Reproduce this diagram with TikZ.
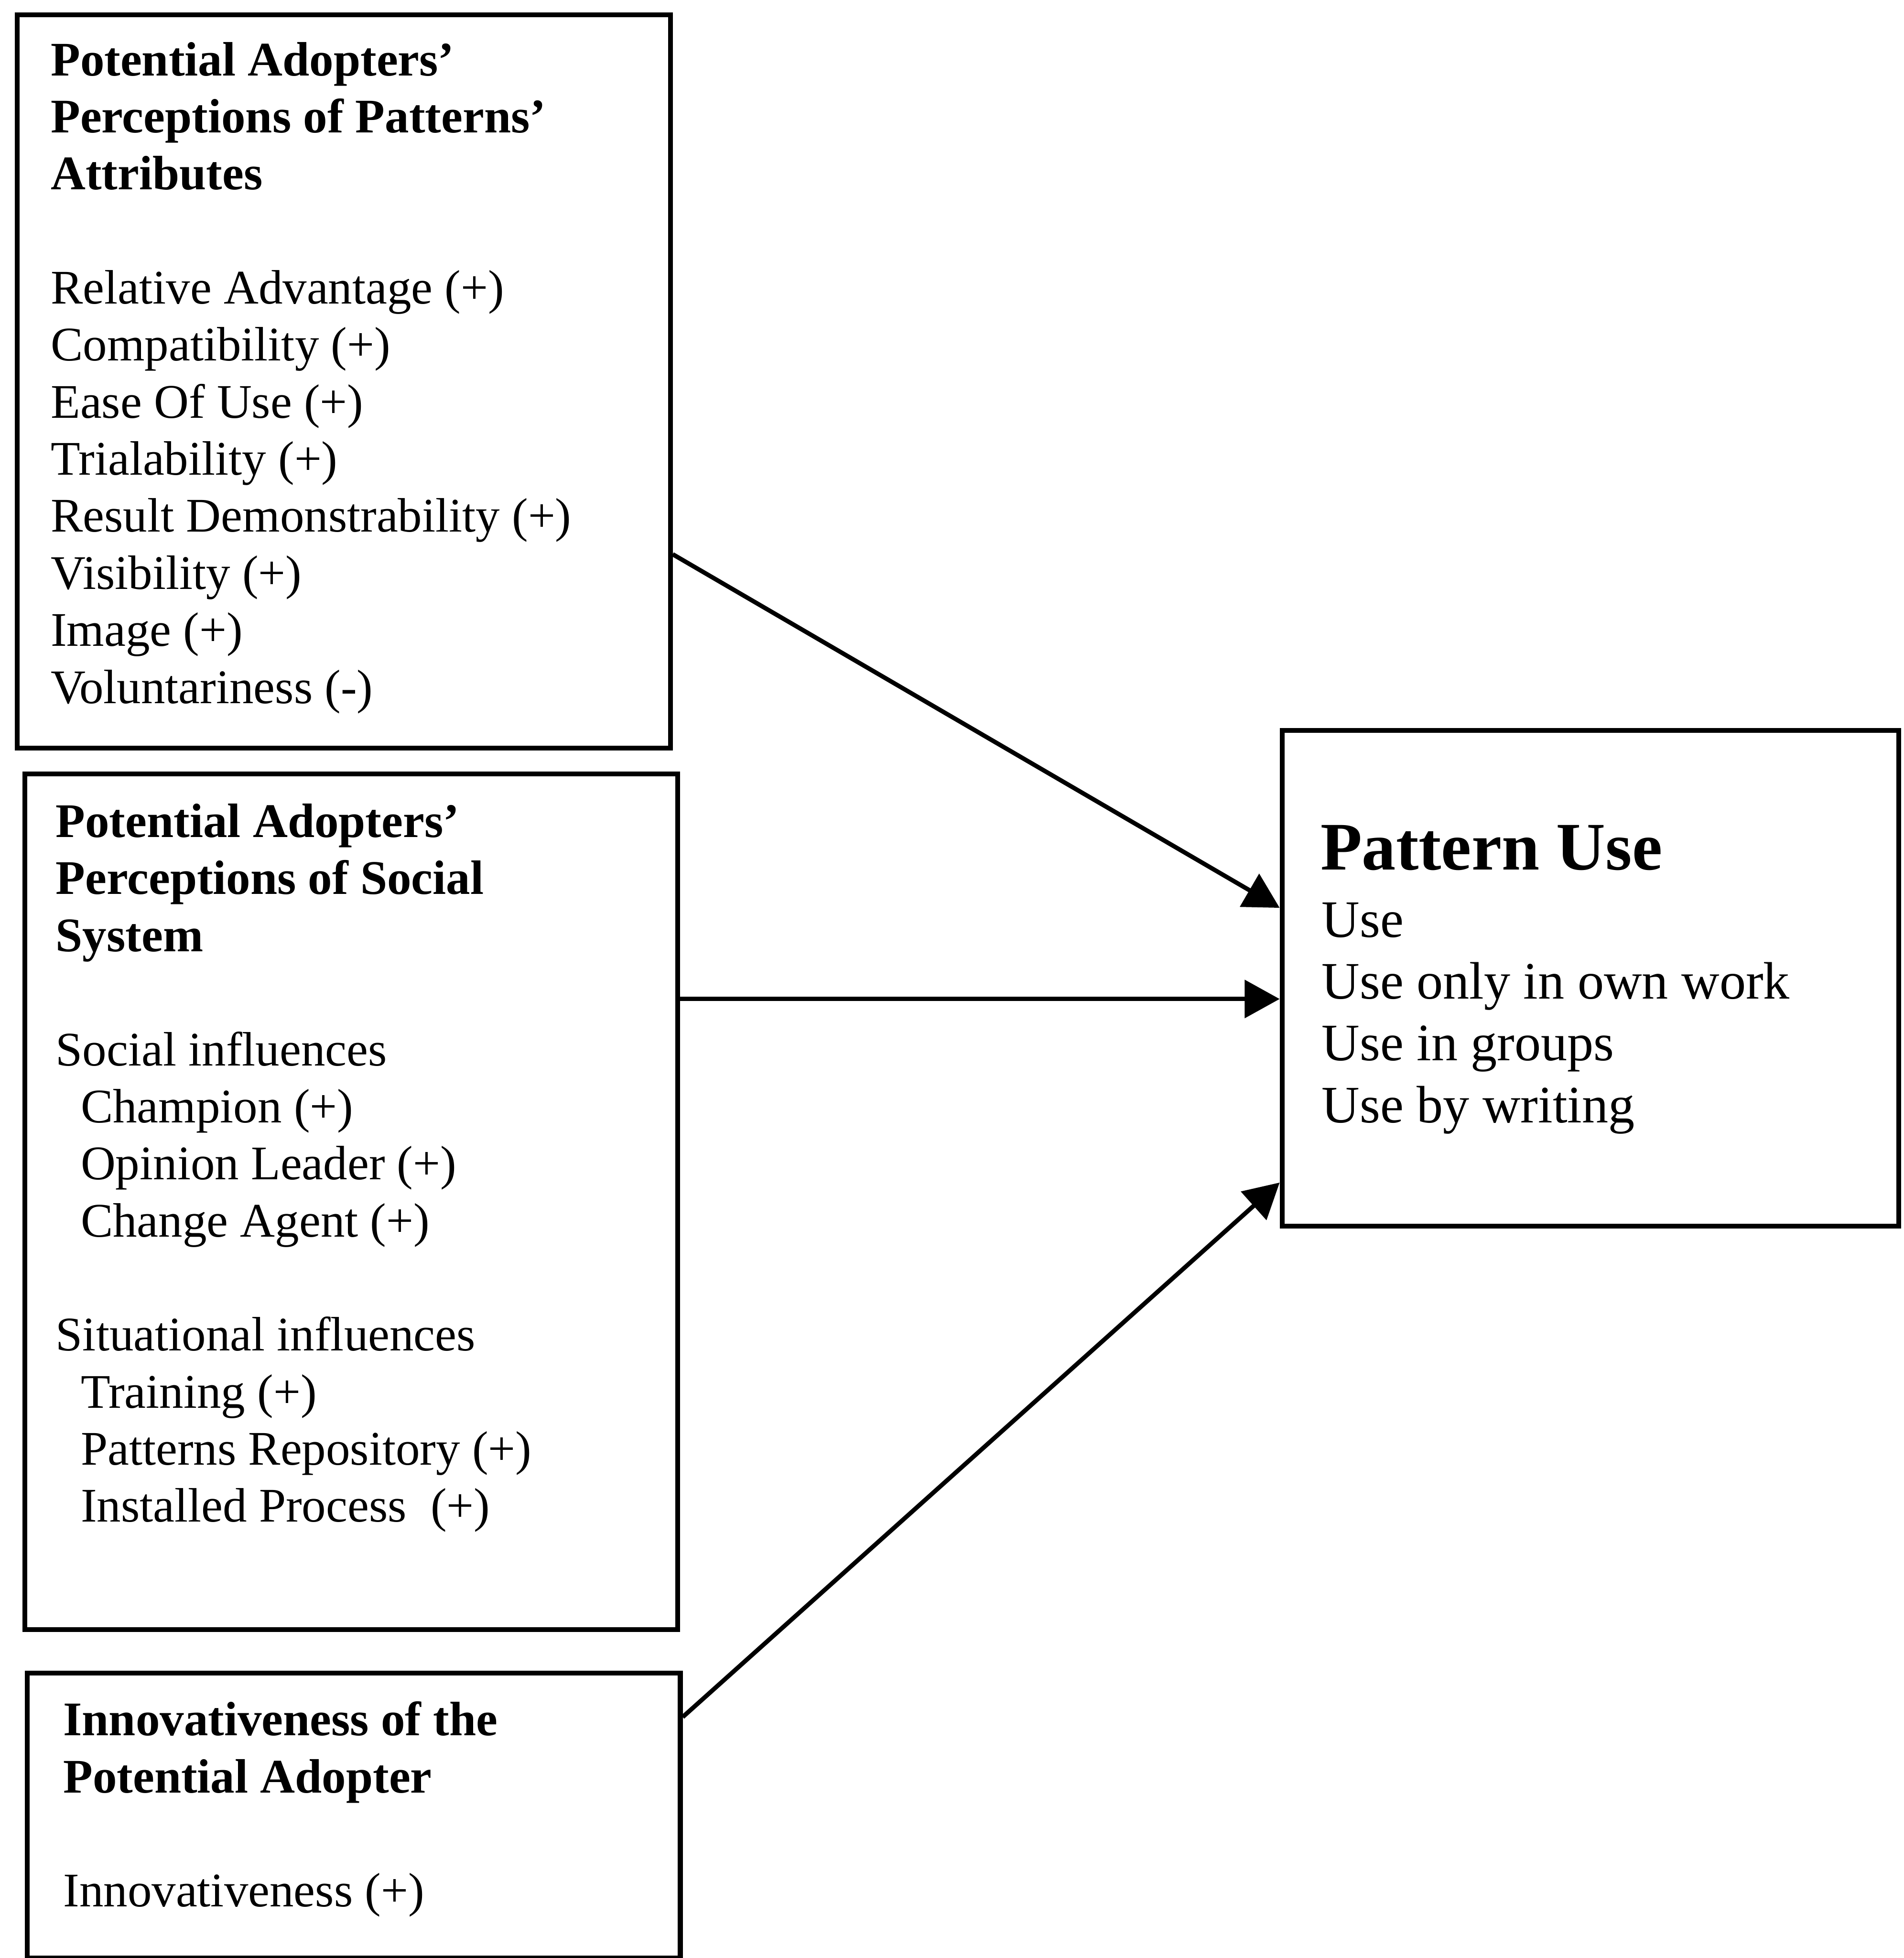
\documentclass[tikz,border=0pt]{standalone}
\usepackage{fontspec}
\setmainfont{Liberation Serif}
\usetikzlibrary{arrows.meta,calc}

\begin{document}
\begin{tikzpicture}[
	box/.style={draw, line width=1.1pt, inner sep=0pt, anchor=north west},
	txt/.style={anchor=north west, inner sep=0pt, align=left, font=\fontsize{11}{13}\selectfont},
	arr/.style={line width=1pt, -{Triangle[length=0.28cm,width=0.30cm]}}]
	\useasboundingbox (0,0) rectangle (15.25,-15.68);
	
	%left boxes
	\node[box, minimum width=5.23cm, minimum height=5.87cm] (attrib) at (0.12,-0.10) {};
	\node[box, minimum width=5.23cm, minimum height=6.85cm] (social) at (0.18,-6.18) {};
	\node[box, minimum width=5.23cm, minimum height=2.28cm] (innov) at (0.20,-13.38) {};
	
	%outcome box
	\node[box, minimum width=4.94cm, minimum height=3.97cm] (use) at (10.25,-5.83) {};
	
	%box texts
	\node[txt] (attribtxt) at (0.40,-0.33) {\textbf{Potential Adopters'}\\
		\textbf{Perceptions of Patterns'}\\
		\textbf{Attributes}\\[13pt]
		Relative Advantage (+)\\
		Compatibility (+)\\
		Ease Of Use (+)\\
		Trialability (+)\\
		Result Demonstrability (+)\\
		Visibility (+)\\
		Image (+)\\
		Voluntariness (-)};
	\node[txt] (socialtxt) at (0.44,-6.43) {\textbf{Potential Adopters'}\\
		\textbf{Perceptions of Social}\\
		\textbf{System}\\[13pt]
		Social influences\\
		\hspace*{0.2cm}Champion (+)\\
		\hspace*{0.2cm}Opinion Leader (+)\\
		\hspace*{0.2cm}Change Agent (+)\\[13pt]
		Situational influences\\
		\hspace*{0.2cm}Training (+)\\
		\hspace*{0.2cm}Patterns Repository (+)\\
		\hspace*{0.2cm}Installed Process\ \ (+)};
	\node[txt] (innovtxt) at (0.50,-13.62) {\textbf{Innovativeness of the}\\
		\textbf{Potential Adopter}\\[13pt]
		Innovativeness (+)};
	\node[txt, font=\fontsize{15.5}{18}\selectfont\bfseries] (usehead) at (10.57,-6.60) {Pattern Use};
	\node[txt, font=\fontsize{12}{14.1}\selectfont] (useitems) at (10.58,-7.22) {Use\\
		Use only in own work\\
		Use in groups\\
		Use by writing};
	
	%arrows
	\draw[arr] ($(attrib.south east)+(0,1.57)$) -- ($(use.north west)+(0,-1.44)$);
	\draw[arr] ($(social.north east)+(0,-1.82)$) -- ($(use.north west)+(0,-2.17)$);
	\draw[arr] ($(innov.north east)+(0,-0.37)$) -- ($(use.north west)+(0,-3.64)$);
\end{tikzpicture}
\end{document}
